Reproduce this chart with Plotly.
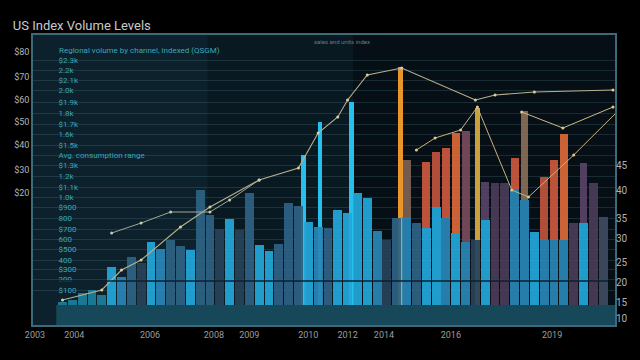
import plotly.graph_objects as go

# ---------------- data ----------------
bar_index = list(range(56))
base_values = [3, 5, 12, 15, 10, 38, 28, 48, 42, 63, 56, 65, 59, 55, 115, 90, 76, 86, 75, 112,
               60, 54, 61, 102, 99, 83, 78, 77, 95, 92, 112, 107, 74, 65, 87, 88, 82, 77, 98, 87,
               72, 63, 65, 85, 122, 122, 115, 105, 73, 65, 65, 65, 82, 82, 122, 88]
upper_values = [0] * 35 + [57, 0, 66, 55, 70, 100, 111, 0, 38, 0, 0, 32, 89, 0, 63, 80, 106, 0, 60, 0, 0]

spike_x = [24.5, 26.2, 29.4, 34.4, 42.2]
spike_values = [150, 183, 203, 238, 197]

line_a_x = [0, 4, 6, 8, 12, 15, 20, 24, 26, 28, 29, 31, 34.5, 42, 44, 48, 56]
line_a_y = [5, 15, 35, 45, 78, 98, 125, 137, 172, 188, 205, 230, 237, 205, 210, 213, 215]
line_b_x = [5, 8, 11, 15, 17, 20]
line_b_y = [72, 82, 93, 93, 105, 125]
line_d_x = [36, 37.9, 40.5, 42.2, 45.7, 47.4, 52, 56.4]
line_d_y = [155, 167, 175, 198, 115, 108, 150, 193]
line_e_x = [46.7, 50.9, 56]
line_e_y = [193, 177, 198]

x_tick_pos = [-2.8, 1.2, 8.9, 15.4, 19, 25, 29, 32.7, 39.5, 49.8]
x_tick_text = ["2003", "2004", "2006", "2008", "2009", "2010", "2012", "2014", "2016", "2019"]

left_tick_vals = [253, 228, 205, 183, 160, 135, 112]
left_tick_text = ["$80", "$70", "$60", "$50", "$40", "$30", "$20"]

inner_tick_vals = [245, 235, 225, 215, 203, 192, 181, 171, 160, 150, 140, 129, 118, 108, 98, 87,
                   76, 66, 56, 45, 36, 26, 15]
inner_tick_text = ["$2.3k", "2.2k", "$2.1k", "2.0k", "$1.9k", "1.8k", "$1.7k", "1.6k", "$1.5k",
                   "Avg. consumption range", "$1.3k", "1.2k", "$1.1k", "1.0k", "$900", "800",
                   "$700", "600", "$500", "400", "$300", "200", "$100"]

right_tick_vals = [140, 115, 87, 67, 43, 23, 3, -13]
right_tick_text = ["45", "40", "35", "30", "25", "20", "15", "10"]

# ---------------- styles ----------------
C, M, S, D, P, G, T = "#23a7da", "#2a86b6", "#2e6284", "#27435a", "#4a3c58", "#3e4b62", "#1d7f9a"
base_colors = [T, T, T, T, T, C, M, S, D, C, M, S, S, C, S, S, D, C, D, S,
               C, C, S, S, S, C, M, S, C, C, C, C, M, D, S, M, S, C, C, M,
               C, M, D, C, P, P, M, M, C, M, M, M, P, C, P, G]
R1, R2, R3, BR, MV, PU, TN = "#cf5a3d", "#c4553f", "#e06b3a", "#7f6457", "#7a4c5e", "#5b4568", "#8c7058"
upper_colors = ["rgba(0,0,0,0)"] * 56
for i, c in {35: BR, 37: R1, 38: R2, 39: R1, 40: R3, 41: MV, 43: PU, 46: R1, 47: TN,
             49: R2, 50: R1, 51: R3, 53: PU}.items():
    upper_colors[i] = c
spike_colors = ["#27c0ec", "#27c0ec", "#27c0ec", "#e8962c", "#c9a03c"]

fig = go.Figure()

fig.add_trace(go.Bar(x=spike_x, y=spike_values, width=0.45,
                     marker=dict(color=spike_colors, line=dict(width=0)), hoverinfo="skip"))
fig.add_trace(go.Bar(x=bar_index, y=base_values, width=0.9,
                     marker=dict(color=base_colors, line=dict(width=0)), opacity=0.93))
fig.add_trace(go.Bar(x=bar_index, y=upper_values, base=base_values, width=0.8,
                     marker=dict(color=upper_colors, line=dict(width=0)), opacity=0.9))

fig.add_trace(go.Scatter(x=line_a_x, y=line_a_y, mode="lines+markers",
                         line=dict(color="#b8b08c", width=1.1), marker=dict(size=3, color="#d8cfa0")))
fig.add_trace(go.Scatter(x=line_b_x, y=line_b_y, mode="lines+markers",
                         line=dict(color="#9fa89a", width=1), marker=dict(size=3, color="#c8c8b0")))
fig.add_trace(go.Scatter(x=line_d_x, y=line_d_y, mode="lines+markers",
                         line=dict(color="#c9b27a", width=1), marker=dict(size=3, color="#e0c98a")))
fig.add_trace(go.Scatter(x=line_e_x, y=line_e_y, mode="lines+markers",
                         line=dict(color="#cbb98c", width=1), marker=dict(size=3, color="#e0c98a")))

# invisible anchors for overlay axes
fig.add_trace(go.Scatter(x=[0], y=[0], yaxis="y2", mode="markers", marker=dict(opacity=0), hoverinfo="skip"))
fig.add_trace(go.Scatter(x=[0], y=[0], yaxis="y3", mode="markers", marker=dict(opacity=0), hoverinfo="skip"))

yr = [-20, 270]
fig.update_layout(
    width=640, height=360,
    margin=dict(l=33, r=15, t=35, b=35),
    paper_bgcolor="#000000",
    plot_bgcolor="#060f15",
    barmode="overlay",
    bargap=0,
    showlegend=False,
    font=dict(family="Roboto, DejaVu Sans", color="#a8a8a8"),
    title=dict(text="US Index Volume Levels", x=0.02, xanchor="left", y=0.93, yanchor="middle",
               font=dict(size=13, color="#c9c9c9")),
    xaxis=dict(range=[-3, 56.2], tickmode="array", tickvals=x_tick_pos, ticktext=x_tick_text,
               showgrid=False, zeroline=False, showline=True, mirror=True, linecolor="#3c6a7a",
               linewidth=1.5, ticks="", tickfont=dict(size=9, color="#9c9c9c")),
    yaxis=dict(range=yr, tickmode="array", tickvals=left_tick_vals, ticktext=left_tick_text,
               showgrid=False, zeroline=False, showline=True, mirror=True, linecolor="#3c6a7a",
               linewidth=1.5, ticks="", tickfont=dict(size=9, color="#b4b4b4")),
    yaxis2=dict(range=yr, overlaying="y", side="right", anchor="free", position=0.042,
                tickmode="array", tickvals=inner_tick_vals, ticktext=inner_tick_text,
                showgrid=True, gridcolor="rgba(110,160,175,0.2)", gridwidth=1,
                zeroline=False, showline=False, ticks="",
                tickfont=dict(size=8, color="#3da6b8")),
    yaxis3=dict(range=yr, overlaying="y", side="right", anchor="x",
                tickmode="array", tickvals=right_tick_vals, ticktext=right_tick_text,
                showgrid=False, zeroline=False, showline=False, ticks="",
                tickfont=dict(size=10, color="#b0b0b0")),
    shapes=[
        dict(type="rect", xref="paper", yref="paper", x0=0, x1=0.55, y0=0, y1=1,
             fillcolor="rgba(25,65,80,0.22)", line=dict(width=0), layer="below"),
        dict(type="rect", xref="paper", yref="paper", x0=0, x1=0.3, y0=0, y1=1,
             fillcolor="rgba(25,65,80,0.2)", line=dict(width=0), layer="below"),
        dict(type="rect", xref="paper", yref="y", x0=0.04, x1=1, y0=-20, y1=0,
             fillcolor="#16485a", line=dict(width=0), layer="below"),
        dict(type="line", xref="x", yref="y", x0=-0.5, x1=55.5, y0=24, y1=24,
             line=dict(color="#0b2233", width=1.5)),
    ],
    annotations=[
        dict(text="Regional volume by channel, indexed (QSGM)", xref="paper", yref="y",
             x=0.042, y=255, xanchor="left", yanchor="middle", showarrow=False,
             font=dict(size=8, color="#3da6b8")),
        dict(text="sales and units index", xref="paper", yref="paper", x=0.48, y=0.995,
             xanchor="left", yanchor="top", showarrow=False, font=dict(size=6, color="#6a7a80")),
    ],
)

fig.write_html("out.html", config={"displayModeBar": False},
               post_script="document.body.style.margin='0';")
